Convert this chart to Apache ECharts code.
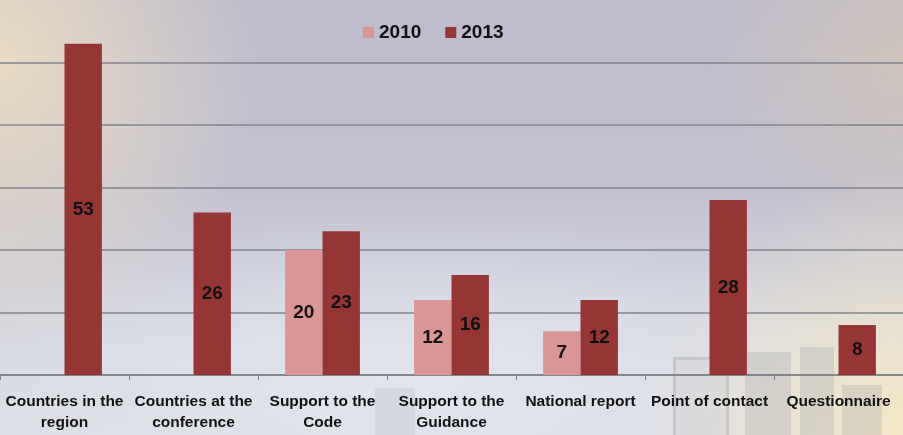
<!DOCTYPE html>
<html>
<head>
<meta charset="utf-8">
<script src="https://cdn.jsdelivr.net/npm/echarts@6/dist/echarts.min.js"></script>
<style>
  html, body { margin: 0; padding: 0; }
  #wrap {
    position: relative; width: 903px; height: 435px; overflow: hidden;
    background:
      radial-gradient(ellipse 260px 300px at 0px 60px, rgba(236,221,194,0.95), rgba(236,221,194,0) 100%),
      radial-gradient(ellipse 260px 260px at 903px 435px, rgba(246,232,196,0.95), rgba(246,232,196,0) 100%),
      radial-gradient(ellipse 200px 200px at 903px 60px, rgba(210,196,182,0.8), rgba(210,196,182,0) 100%),
      radial-gradient(ellipse 500px 160px at 420px 380px, rgba(226,230,238,0.9), rgba(226,230,238,0) 100%),
      linear-gradient(180deg, #bdbbcc 0%, #c3c2d2 45%, #d7d9e3 80%, #dcdde4 100%);
  }
  .bld { position: absolute; background: rgba(140,146,160,0.22); }
  #chart { position: absolute; left: 0; top: 0; width: 903px; height: 435px; }
</style>
</head>
<body>
<div id="wrap">
  <!-- faint skyline behind the lower right of the plot -->
  <div class="bld" style="left:673px;top:357px;width:50px;height:80px;border:3px solid rgba(140,146,160,0.25);background:rgba(140,146,160,0.08)"></div>
  <div class="bld" style="left:745px;top:352px;width:46px;height:83px;"></div>
  <div class="bld" style="left:800px;top:347px;width:34px;height:88px;"></div>
  <div class="bld" style="left:842px;top:385px;width:40px;height:50px;"></div>
  <div class="bld" style="left:375px;top:388px;width:40px;height:47px;background:rgba(140,146,160,0.14)"></div>
  <div id="chart"></div>
</div>
<script>
// Survey categories (line breaks follow the two-line axis labels)
var categories = [
  'Countries in the\nregion',
  'Countries at the\nconference',
  'Support to the\nCode',
  'Support to the\nGuidance',
  'National report',
  'Point of contact',
  'Questionnaire'
];
var seriesNames = ['2010', '2013'];
var values2010 = [null, null, 20, 12, 7, null, null];
var values2013 = [53, 26, 23, 16, 12, 28, 8];

var FONT = '"Liberation Sans", Arial, sans-serif';
var GRID_GREY = '#83838d';
var chart = echarts.init(document.getElementById('chart'), null, { renderer: 'canvas' });

var labelStyle = {
  show: true,
  position: 'inside',
  color: '#111111',
  fontFamily: FONT,
  fontWeight: 'bold',
  fontSize: 19
};

chart.setOption({
  backgroundColor: 'transparent',
  animation: false,
  legend: {
    data: seriesNames,
    left: 358,
    top: 18,
    icon: 'rect',
    itemWidth: 11,
    itemHeight: 11,
    itemGap: 24,
    textStyle: { color: '#111111', fontFamily: FONT, fontWeight: 'bold', fontSize: 19 }
  },
  grid: { left: 0, right: -5, top: -3, bottom: 60, containLabel: false },
  xAxis: {
    type: 'category',
    data: categories,
    axisLine: { lineStyle: { color: '#808088', width: 1.5 } },
    axisTick: { show: true, length: 5, lineStyle: { color: '#808088' } },
    axisLabel: {
      interval: 0,
      margin: 16,
      color: '#121212',
      fontFamily: FONT,
      fontWeight: 'bold',
      fontSize: 15.5,
      lineHeight: 21
    }
  },
  yAxis: {
    type: 'value',
    min: 0,
    max: 60,
    interval: 10,
    axisLabel: { show: false },
    axisLine: { show: false },
    axisTick: { show: false },
    // the line at the top of the value range is left undrawn
    splitLine: { lineStyle: { color: [GRID_GREY, GRID_GREY, GRID_GREY, GRID_GREY, GRID_GREY, GRID_GREY, 'rgba(0,0,0,0)'], width: 1.5 } }
  },
  series: [
    {
      name: seriesNames[0],
      type: 'bar',
      data: values2010,
      barGap: '0%',
      barCategoryGap: '42%',
      itemStyle: { color: '#d99694' },
      label: labelStyle
    },
    {
      name: seriesNames[1],
      type: 'bar',
      data: values2013,
      barGap: '0%',
      barCategoryGap: '42%',
      itemStyle: { color: '#963634' },
      label: labelStyle
    }
  ]
});
</script>
</body>
</html>
